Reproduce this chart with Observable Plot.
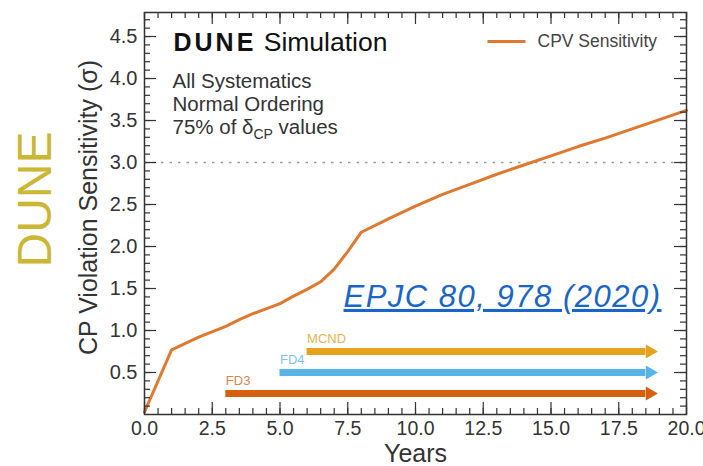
<!DOCTYPE html>
<html>
<head>
<meta charset="utf-8">
<script src="https://cdn.jsdelivr.net/npm/d3@7"></script>
<script src="https://cdn.jsdelivr.net/npm/@observablehq/plot@0.6"></script>
<style>
  html, body { margin: 0; padding: 0; background: white; }
</style>
</head>
<body>
<div id="chart"></div>
<script>
// ---- data ----
const years = [0, 1, 2, 3, 3.5, 4, 5, 5.5, 6, 6.5, 7, 7.5, 8, 9, 10, 11, 12, 13, 14, 15, 16, 17, 18, 19, 20];
const sensitivity = [0.03, 0.77, 0.92, 1.05, 1.13, 1.20, 1.32, 1.41, 1.49, 1.58, 1.73, 1.94, 2.17, 2.33, 2.48, 2.62, 2.74, 2.86, 2.97, 3.08, 3.19, 3.29, 3.40, 3.51, 3.62];

const detectors = ["FD3", "FD4", "MCND"];
const detectorStart = [3, 5, 6];
const detectorEnd = [18.5, 18.5, 18.5];
const detectorLevel = [0.25, 0.5, 0.75];
const detectorColor = ["#d5600f", "#56b4e9", "#e6a21c"];
const detectorLabelColor = ["#e0834a", "#7ec3ee", "#eab44c"];

const xMajorTicks = [0, 2.5, 5, 7.5, 10, 12.5, 15, 17.5, 20];
const xMinorTicks = d3.range(0, 20.001, 0.5);
const yMajorTicks = [0.5, 1.0, 1.5, 2.0, 2.5, 3.0, 3.5, 4.0, 4.5];
const yMinorTicks = d3.range(0.1, 4.78, 0.1);
const thresholdSigma = [3];

const seriesName = "CPV Sensitivity";
const xTitle = "Years";
const yTitle = "CP Violation Sensitivity (σ)";
const sideTitle = "DUNE";
const headerTitle = "DUNE Simulation";
const headerLines = ["All Systematics", "Normal Ordering", "75% of δCP values"];
const reference = "EPJC 80, 978 (2020)";

// ---- layout ----
const W = 703, H = 466;
const mL = 144, mR = 17, mT = 12, mB = 52;
const innerW = W - mL - mR, innerH = H - mT - mB;

const curve = years.map((x, i) => ({x, y: sensitivity[i]}));
const arrows = detectors.map((name, i) => ({
  name, start: detectorStart[i], end: detectorEnd[i], y: detectorLevel[i],
  color: detectorColor[i], labelColor: detectorLabelColor[i]
}));

const lineSymbol = {
  draw(ctx) { ctx.moveTo(-19, 0); ctx.lineTo(19, 0); }
};

const ink = "#333";
const font = "'Liberation Sans', Arial, Helvetica, sans-serif";
const headerDy = [69, 92, 115];

const chart = Plot.plot({
  width: W, height: H,
  marginLeft: mL, marginRight: mR, marginTop: mT, marginBottom: mB,
  style: {fontFamily: font, background: "white", color: ink},
  x: {domain: [0, 20], axis: null},
  y: {domain: [0, 4.786], axis: null},
  marks: [
    // dotted 3 sigma line
    Plot.ruleY(thresholdSigma, {stroke: "#9a9a9a", strokeWidth: 1.6, strokeDasharray: "2.5,6"}),
    // detector arrows
    Plot.ruleY(arrows, {y: "y", x1: "start", x2: "end", stroke: "color", strokeWidth: 7}),
    Plot.dot(arrows, {x: "end", y: "y", symbol: "triangle", rotate: 90, r: 5.2, dx: 4, fill: "color", stroke: "none"}),
    Plot.text(arrows, {x: "start", y: "y", text: "name", fill: "labelColor", textAnchor: "start", dy: -13, fontSize: 13}),
    // sensitivity curve
    Plot.line(curve, {x: "x", y: "y", stroke: "#e0782f", strokeWidth: 3}),
    // frame and ticks (inward, all four sides)
    Plot.frame({stroke: ink, strokeWidth: 1.5}),
    Plot.tickX(xMajorTicks, {x: d => d, stroke: ink, strokeWidth: 1.2, insetTop: innerH - 12}),
    Plot.tickX(xMinorTicks, {x: d => d, stroke: ink, strokeWidth: 1.2, insetTop: innerH - 6}),
    Plot.tickX(xMajorTicks, {x: d => d, stroke: ink, strokeWidth: 1.2, insetBottom: innerH - 12}),
    Plot.tickX(xMinorTicks, {x: d => d, stroke: ink, strokeWidth: 1.2, insetBottom: innerH - 6}),
    Plot.tickY(yMajorTicks, {y: d => d, stroke: ink, strokeWidth: 1.2, insetRight: innerW - 12}),
    Plot.tickY(yMinorTicks, {y: d => d, stroke: ink, strokeWidth: 1.2, insetRight: innerW - 6}),
    Plot.tickY(yMajorTicks, {y: d => d, stroke: ink, strokeWidth: 1.2, insetLeft: innerW - 12}),
    Plot.tickY(yMinorTicks, {y: d => d, stroke: ink, strokeWidth: 1.2, insetLeft: innerW - 6}),
    // tick labels
    Plot.axisX(xMajorTicks, {tickSize: 0, tickPadding: 7, tickFormat: d3.format(".1f"), fontSize: 19.5, fill: ink, label: null}),
    Plot.axisY(yMajorTicks, {tickSize: 0, tickPadding: 7, tickFormat: d3.format(".1f"), fontSize: 20, fill: ink, label: null}),
    // axis titles
    Plot.text([xTitle], {text: d => d, frameAnchor: "bottom", dy: 39, fontSize: 25, fill: ink, textAnchor: "middle", lineAnchor: "middle"}),
    Plot.text([yTitle], {text: d => d, frameAnchor: "left", dx: -56, dy: -6, rotate: -90, fontSize: 25, fill: ink, textAnchor: "middle", lineAnchor: "middle"}),
    Plot.text([sideTitle], {text: d => d, frameAnchor: "left", dx: -109, dy: -14, rotate: -90, fontSize: 48, fill: "#cbb733", textAnchor: "middle", lineAnchor: "middle"}),
    // header annotations
    Plot.text([headerTitle], {text: d => d, frameAnchor: "top-left", dx: 29, dy: 30, fontSize: 26.5, fill: "#111", textAnchor: "start", lineAnchor: "middle"}),
    Plot.text([headerLines[0]], {text: d => d, frameAnchor: "top-left", dx: 28, dy: headerDy[0], fontSize: 20.5, fill: ink, textAnchor: "start", lineAnchor: "middle"}),
    Plot.text([headerLines[1]], {text: d => d, frameAnchor: "top-left", dx: 28, dy: headerDy[1], fontSize: 20.5, fill: ink, textAnchor: "start", lineAnchor: "middle"}),
    Plot.text([headerLines[2]], {text: d => d, frameAnchor: "top-left", dx: 28, dy: headerDy[2], fontSize: 20.5, fill: ink, textAnchor: "start", lineAnchor: "middle"}),
    // legend
    Plot.dot([seriesName], {frameAnchor: "top-right", dx: -180, dy: 29, symbol: lineSymbol, stroke: "#e0782f", strokeWidth: 3, fill: "none", r: 5}),
    Plot.text([seriesName], {text: d => d, frameAnchor: "top-right", dx: -149, dy: 29, fontSize: 17.5, fill: "#444", textAnchor: "start", lineAnchor: "middle"}),
    // reference
    Plot.text([reference], {text: d => d, frameAnchor: "top-left", dx: 199, dy: 284.5, fontSize: 31, fontStyle: "italic", fill: "#1a66c8", textAnchor: "start", lineAnchor: "middle"})
  ]
});

document.getElementById("chart").appendChild(chart);

// ---- text post-processing: mixed weights, subscript, underline ----
const svg = d3.select(chart);
svg.selectAll("text").each(function() {
  const t = d3.select(this);
  const s = this.textContent;
  if (s === headerTitle) {
    t.text(null);
    t.append("tspan").attr("font-weight", "bold").attr("font-size", 25).attr("letter-spacing", 3).text("DUNE");
    t.append("tspan").text(" Simulation");
  } else if (s === headerLines[2]) {
    t.text(null);
    t.append("tspan").text("75% of δ");
    t.append("tspan").attr("font-size", 14).attr("dy", 5).text("CP");
    t.append("tspan").attr("dy", -5).text(" values");
  } else if (s === reference) {
    t.style("text-decoration", "underline").attr("letter-spacing", 1.5);
  }
});
</script>
</body>
</html>
